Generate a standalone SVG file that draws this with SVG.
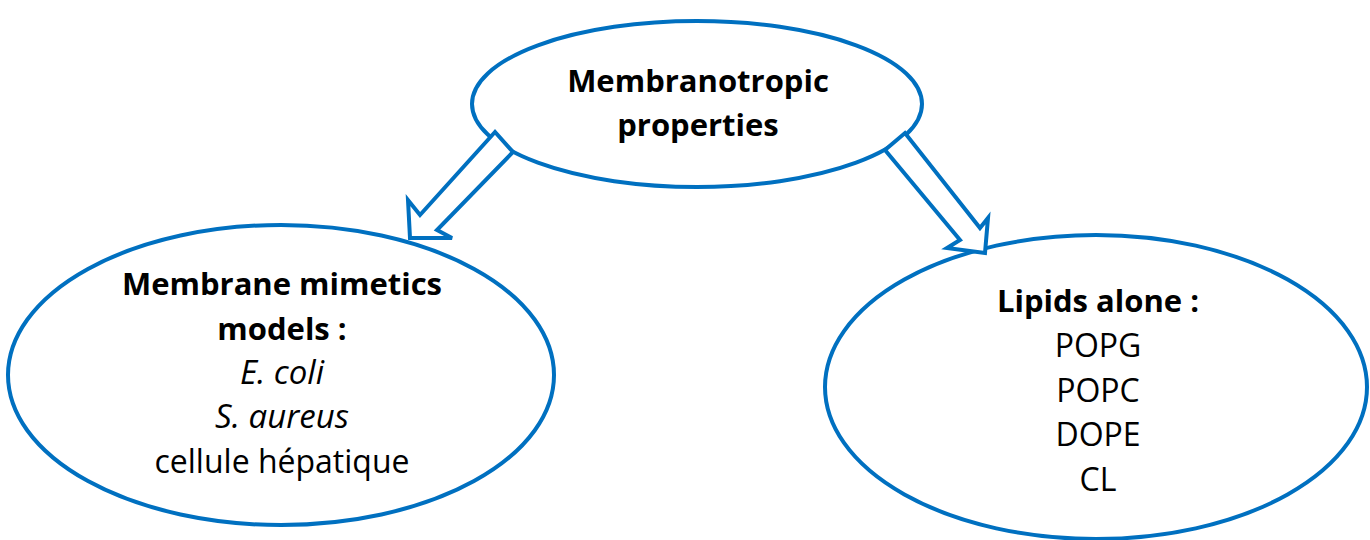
<svg xmlns="http://www.w3.org/2000/svg" width="1370" height="540" viewBox="0 0 1370 540">
<style>
.node{fill:#fff;stroke:#0070C0;stroke-width:4}
.arrow{fill:#fff;stroke:#0070C0;stroke-width:4;stroke-linejoin:miter}
text{font-family:"Open Sans",Lato,sans-serif;font-size:32px;fill:#000;text-anchor:middle;font-variant-ligatures:none}
.b{font-weight:bold;font-size:31px}
.i{font-style:italic;font-size:33px}
</style>
<rect width="1370" height="540" fill="#fff"/>
<g id="node-left">
<ellipse class="node" cx="281" cy="375" rx="273" ry="150"/>
<text class="b" x="282" y="295">Membrane mimetics</text>
<text class="b" x="282" y="340">models :</text>
<text class="i" x="282" y="384">E. coli</text>
<text class="i" x="282" y="428">S. aureus</text>
<text x="282" y="473">cellule hépatique</text>
</g>
<g id="node-right">
<ellipse class="node" cx="1096" cy="387" rx="271" ry="152"/>
<text class="b" x="1098" y="312">Lipids alone :</text>
<text x="1098" y="357">POPG</text>
<text x="1098" y="402">POPC</text>
<text x="1098" y="446">DOPE</text>
<text x="1098" y="491">CL</text>
</g>
<g id="node-top">
<ellipse class="node" cx="697" cy="104" rx="225" ry="83"/>
<text class="b" x="698" y="92">Membranotropic</text>
<text class="b" x="698" y="136">properties</text>
</g>
<g id="connectors">
<polygon class="arrow" points="495,132 420,215 408,200 410,238 452,238 437,230 513,152"/>
<polygon class="arrow" points="885,150 960,240 947,248 985,253 988,218 980,228 905,133"/>
</g>
</svg>
